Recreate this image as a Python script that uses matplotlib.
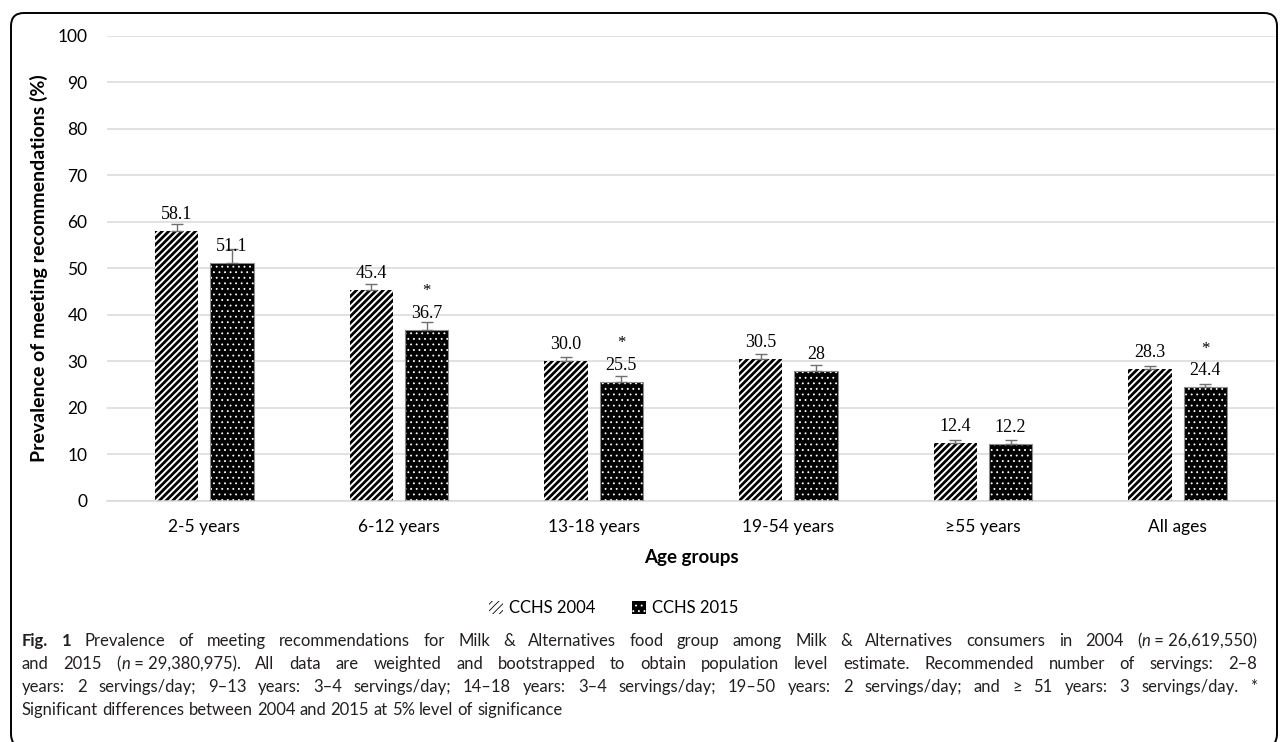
import re
import numpy as np
import matplotlib
matplotlib.use('Agg')
import matplotlib.pyplot as plt
from matplotlib.patches import FancyBboxPatch

plt.rcParams['font.family'] = ['Lato', 'DejaVu Sans']

groups = ['2-5 years', '6-12 years', '13-18 years', '19-54 years', '≥55 years', 'All ages']
cchs_2004 = [58.1, 45.4, 30.0, 30.5, 12.4, 28.3]
cchs_2015 = [51.1, 36.7, 25.5, 28.0, 12.2, 24.4]
labels_2004 = ['58.1', '45.4', '30.0', '30.5', '12.4', '28.3']
labels_2015 = ['51.1', '36.7', '25.5', '28', '12.2', '24.4']
err_2004 = [1.5, 1.2, 1.0, 1.0, 0.7, 0.6]
err_2015 = [3.0, 1.7, 1.4, 1.3, 0.9, 0.8]
significant = [False, True, True, False, False, True]
yticks = list(range(0, 101, 10))

# **bold**, _italic_ inside words, ~ is a space that does not stretch
caption = [
    "**Fig.** **1** Prevalence of meeting recommendations for Milk & Alternatives food group among Milk & Alternatives consumers in 2004 (_n_~=~26,619,550)",
    "and 2015 (_n_~=~29,380,975). All data are weighted and bootstrapped to obtain population level estimate. Recommended number of servings: 2–8",
    "years: 2 servings/day; 9–13 years: 3–4 servings/day; 14–18 years: 3–4 servings/day; 19–50 years: 2 servings/day; and ≥ 51 years: 3 servings/day. *",
    "Significant differences between 2004 and 2015 at 5% level of significance",
]

W, H = 1283, 742
fig = plt.figure(figsize=(W / 100, H / 100), dpi=100)
ax = fig.add_axes([107 / W, 1 - 500.7 / H, (1275 - 107) / W, (500.7 - 36) / H])

x = np.arange(len(groups))
width = 0.223
off = 0.142
serif = 'Liberation Serif'
ecol = '#6f6f6f'

plt.rcParams['hatch.linewidth'] = 2.0
b1 = ax.bar(x - off, cchs_2004, width, color='white', edgecolor='black',
            hatch='/////', linewidth=0, zorder=2, label='CCHS 2004')
plt.rcParams['hatch.linewidth'] = 0.6
b2 = ax.bar(x + off, cchs_2015, width, color='black', edgecolor='white',
            hatch='...', linewidth=0, zorder=2, label='CCHS 2015')
for p in b1:
    if hasattr(p, 'set_hatch_linewidth'):
        p.set_hatch_linewidth(2.0)
for p in b2:
    if hasattr(p, 'set_hatch_linewidth'):
        p.set_hatch_linewidth(0.6)
ax.bar(x + off, cchs_2015, width, fill=False, edgecolor='#8c8c8c',
       linewidth=0.8, zorder=3)

ax.errorbar(x - off, cchs_2004, yerr=[np.zeros(len(x)), err_2004], fmt='none',
            ecolor=ecol, elinewidth=1, capsize=4, capthick=1, zorder=4)
ax.errorbar(x + off, cchs_2015, yerr=[np.zeros(len(x)), err_2015], fmt='none',
            ecolor=ecol, elinewidth=1, capsize=4, capthick=1, zorder=4)

for xi, v, lab in zip(x - off, cchs_2004, labels_2004):
    ax.annotate(lab, (xi, v), xytext=(0, 8.6), textcoords='offset points',
                ha='center', va='baseline', family=serif, fontsize=13, zorder=5)
for xi, v, lab, sig in zip(x + off, cchs_2015, labels_2015, significant):
    ax.annotate(lab, (xi, v), xytext=(0, 8.6), textcoords='offset points',
                ha='center', va='baseline', family=serif, fontsize=13, zorder=5)
    if sig:
        ax.annotate('*', (xi, v), xytext=(0, 25), textcoords='offset points',
                    ha='center', va='baseline', family=serif, fontsize=12, zorder=5)

ax.set_xlim(-0.5, len(groups) - 0.5)
ax.set_ylim(0, 100)
ax.set_yticks(yticks)
ax.set_xticks(x)
ax.set_xticklabels(groups)
ax.tick_params(axis='both', length=0, labelsize=12.5, colors='black')
ax.tick_params(axis='y', pad=14)
ax.tick_params(axis='x', pad=13)
ax.grid(axis='y', color='#d9d9d9', linewidth=1.1, zorder=0)
ax.set_axisbelow(True)
for s in ['top', 'right', 'left']:
    ax.spines[s].set_visible(False)
ax.spines['bottom'].set_color('#d9d9d9')
ax.spines['bottom'].set_linewidth(1.1)

fig.text(691 / W, 1 - 558 / H, 'Age groups', ha='center', va='center',
         fontsize=13.5, fontweight='bold')
fig.text(39 / W, 1 - 268 / H, 'Prevalence of meeting recommendations (%)',
         ha='center', va='center', rotation=90, fontsize=14, fontweight='bold')

fig.legend(handles=[b1, b2], loc='center', bbox_to_anchor=(614 / W, 1 - 608 / H),
           ncol=2, frameon=False, fontsize=12, handlelength=0.8, handleheight=0.8,
           handletextpad=0.4, columnspacing=2.2)

# rounded frame around the whole figure
frame = FancyBboxPatch((0.11, -0.05), 12.66, 7.34, boxstyle='round,pad=0,rounding_size=0.13',
                       transform=fig.dpi_scale_trans, fill=False, edgecolor='black',
                       linewidth=1.4, zorder=10)
fig.add_artist(frame)


def parse_word(word):
    segs = []
    for part in re.split(r'(\*\*[^*]+\*\*|_[^_]+_)', word):
        if not part:
            continue
        if part.startswith('**') and len(part) > 4:
            segs.append((part[2:-2], {'fontweight': 'bold'}))
        elif part.startswith('_') and part.endswith('_') and len(part) > 2:
            segs.append((part[1:-1], {'fontstyle': 'italic'}))
        else:
            segs.append((part.replace('~', ' '), {}))
    return segs


def text_width(s, renderer, size, style):
    t = fig.text(0, 0, s.replace(' ', '\u00a0'), fontsize=size, **style)
    w = t.get_window_extent(renderer).width
    t.remove()
    return w


def draw_caption(lines, x0, x1, y0, step, size):
    renderer = fig.canvas.get_renderer()
    space = text_width('a a', renderer, size, {}) - text_width('aa', renderer, size, {})
    for i, line in enumerate(lines):
        words = [parse_word(w) for w in line.split(' ')]
        seg_w = [[text_width(s, renderer, size, st) for s, st in segs] for segs in words]
        widths = [sum(ws) for ws in seg_w]
        if i < len(lines) - 1:
            gap = (x1 - x0 - sum(widths)) / (len(words) - 1)
        else:
            gap = space
        y = 1 - (y0 + i * step) / H
        xpos = x0
        for segs, ws, w in zip(words, seg_w, widths):
            xx = xpos
            for (s, st), sw in zip(segs, ws):
                fig.text(xx / W, y, s.replace(' ', '\u00a0'), fontsize=size,
                         va='baseline', ha='left', color='#231f20', **st)
                xx += sw
            xpos += w + gap


fig.canvas.draw()
draw_caption(caption, 22, 1257, 646, 23, 12)

fig.savefig('out.png', dpi=100)
